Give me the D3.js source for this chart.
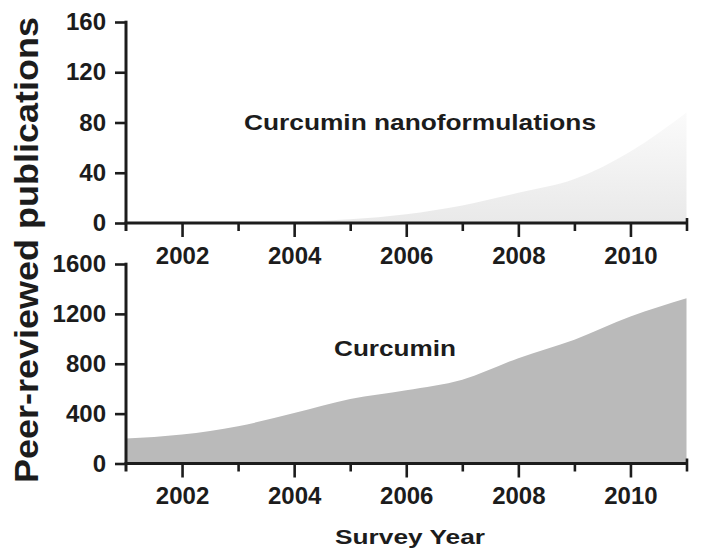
<!DOCTYPE html>
<html>
<head>
<meta charset="utf-8">
<script src="https://cdn.jsdelivr.net/npm/d3@7"></script>
<style>
  html, body { margin: 0; padding: 0; background: #fff; }
  svg { display: block; font-family: "Liberation Sans", Arial, sans-serif; }
</style>
</head>
<body>
<svg id="chart" width="702" height="559"></svg>
<script>
// ---- data ----
const years = [2001, 2002, 2003, 2004, 2005, 2006, 2007, 2008, 2009, 2010, 2011];
const nanoValues = [0, 0, 0, 1, 3, 7, 14, 24, 35, 57, 88];
const curcuminValues = [200, 232, 299, 405, 517, 587, 672, 845, 992, 1178, 1325];
const topTicks = [0, 40, 80, 120, 160];
const bottomTicks = [0, 400, 800, 1200, 1600];
const yearLabels = [2002, 2004, 2006, 2008, 2010];
const topLabel = "Curcumin nanoformulations";
const bottomLabel = "Curcumin";
const xTitle = "Survey Year";
const yTitle = "Peer-reviewed publications";

const svg = d3.select("#chart");
const ink = "#1c1c1c";

const x = d3.scaleLinear().domain([2001, 2011]).range([126, 686.5]);
const yTop = d3.scaleLinear().domain([0, 160]).range([223, 22]);
const yBot = d3.scaleLinear().domain([0, 1600]).range([463.5, 264]);

// gradient for the faint top area
const defs = svg.append("defs");
const grad = defs.append("linearGradient").attr("id", "nanoGrad")
  .attr("gradientUnits", "userSpaceOnUse")
  .attr("x1", 0).attr("y1", yTop(0)).attr("x2", 0).attr("y2", yTop(90));
grad.append("stop").attr("offset", "0%").attr("stop-color", "#e9e9e9");
grad.append("stop").attr("offset", "100%").attr("stop-color", "#fbfbfb");

function drawPanel(yScale, values, ticks, fill, labelY, label, labelX, labelLen, labelSize) {
  const data = years.map((yr, i) => ({ yr, v: values[i] }));
  const area = d3.area()
    .x(d => x(d.yr))
    .y0(yScale(0))
    .y1(d => yScale(d.v))
    .curve(d3.curveMonotoneX);
  svg.append("path").datum(data).attr("d", area).attr("fill", fill);

  // y axis
  const yAxis = d3.axisLeft(yScale).tickValues(ticks).tickSize(11).tickPadding(9).tickFormat(d3.format("d"));
  const gy = svg.append("g").attr("transform", `translate(${x(2001)},0)`).call(yAxis);
  gy.select(".domain").remove();
  gy.selectAll(".tick line").attr("stroke", ink).attr("stroke-width", 2.6);
  gy.selectAll(".tick text")
    .attr("fill", ink)
    .attr("font-size", 24)
    .attr("font-weight", "bold");
  svg.append("line")
    .attr("x1", x(2001)).attr("x2", x(2001))
    .attr("y1", yScale(ticks[ticks.length - 1]) - 1.3)
    .attr("y2", yScale(0) + 8)
    .attr("stroke", ink).attr("stroke-width", 3);

  // x axis
  const xAxis = d3.axisBottom(x).tickValues(years).tickSize(12).tickPadding(0)
    .tickFormat(d => yearLabels.includes(d) ? d : "");
  const gx = svg.append("g").attr("transform", `translate(0,${yScale(0)})`).call(xAxis);
  gx.select(".domain").remove();
  gx.selectAll(".tick line")
    .attr("stroke", ink).attr("stroke-width", 2.6)
    .attr("y1", d => d === 2011 ? -5 : 0)
    .attr("y2", d => d === 2001 ? 0 : (d % 2 === 0 ? 14 : 8));
  gx.selectAll(".tick text")
    .attr("fill", ink)
    .attr("font-size", 24)
    .attr("font-weight", "bold")
    .attr("dy", null)
    .attr("y", labelY - yScale(0));
  svg.append("line")
    .attr("x1", x(2001) - 1.5).attr("x2", x(2011) + 1)
    .attr("y1", yScale(0)).attr("y2", yScale(0))
    .attr("stroke", ink).attr("stroke-width", 3);

  // panel label
  svg.append("text")
    .attr("x", labelX).attr("y", label.y)
    .attr("font-size", labelSize)
    .attr("font-weight", "bold")
    .attr("fill", ink)
    .attr("textLength", labelLen)
    .attr("lengthAdjust", "spacingAndGlyphs")
    .text(label.t);
}

drawPanel(yTop, nanoValues, topTicks, "url(#nanoGrad)", 264, { t: topLabel, y: 130 }, 244, 352, 22);
drawPanel(yBot, curcuminValues, bottomTicks, "#bababa", 504, { t: bottomLabel, y: 356 }, 334, 122, 22);

// axis titles
svg.append("text")
  .attr("x", 410).attr("y", 544)
  .attr("text-anchor", "middle")
  .attr("font-size", 21)
  .attr("font-weight", "bold")
  .attr("fill", ink)
  .attr("textLength", 150)
  .attr("lengthAdjust", "spacingAndGlyphs")
  .text(xTitle);

svg.append("text")
  .attr("transform", "translate(38,250) rotate(-90)")
  .attr("text-anchor", "middle")
  .attr("font-size", 34)
  .attr("font-weight", "bold")
  .attr("fill", ink)
  .attr("textLength", 466)
  .attr("lengthAdjust", "spacingAndGlyphs")
  .text(yTitle);
</script>
</body>
</html>
